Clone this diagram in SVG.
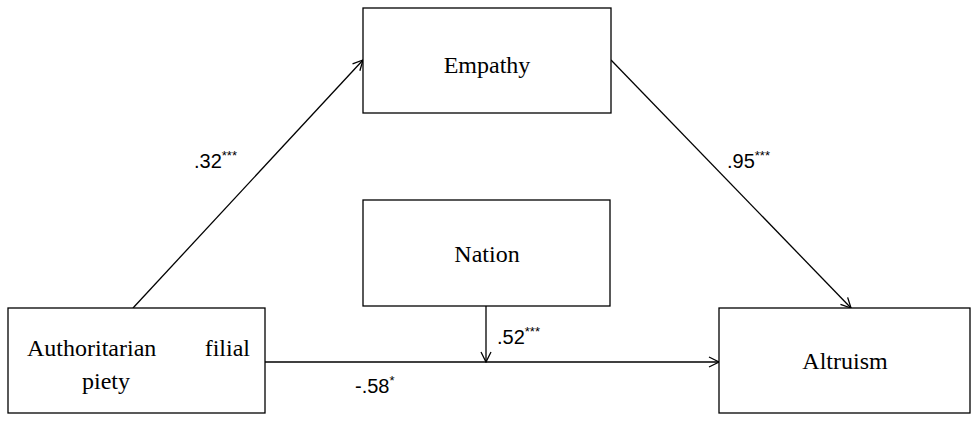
<svg xmlns="http://www.w3.org/2000/svg" width="975" height="423" viewBox="0 0 975 423">
<style>
.box{fill:#fff;stroke:#000;stroke-width:1.3}
.t{font-family:"Liberation Serif",serif;font-size:24px;fill:#000;text-anchor:middle}
.n{font-family:"Liberation Sans",sans-serif;font-size:20px;fill:#000}
.s{font-size:13px}
.c{stroke:#000;stroke-width:1.3;fill:none;marker-end:url(#a)}
</style>
<defs><marker id="a" markerWidth="12" markerHeight="12" refX="11" refY="6" orient="auto" markerUnits="userSpaceOnUse"><path d="M1,1 L11,6 L1,11" fill="none" stroke="#000" stroke-width="1.3"/></marker></defs>
<rect width="975" height="423" fill="#fff"/>
<g id="connectors">
<line class="c" x1="133" y1="308" x2="363" y2="60"/>
<line class="c" x1="611" y1="60" x2="851" y2="308"/>
<line class="c" x1="265" y1="362" x2="719" y2="362"/>
<line class="c" x1="486" y1="306" x2="486" y2="362"/>
<text class="n" x="194" y="168">.32<tspan class="s" dy="-8">***</tspan></text>
<text class="n" x="727" y="168">.95<tspan class="s" dy="-8">***</tspan></text>
<text class="n" x="497" y="344">.52<tspan class="s" dy="-8">***</tspan></text>
<text class="n" x="355" y="393">-.58<tspan class="s" dy="-8">*</tspan></text>
</g>
<g id="empathy"><rect class="box" x="363" y="8" width="248" height="105"/><text class="t" x="487" y="73">Empathy</text></g>
<g id="nation"><rect class="box" x="363" y="200" width="247" height="106"/><text class="t" x="487" y="262">Nation</text></g>
<g id="afp"><rect class="box" x="8" y="308" width="257" height="105"/><text class="t" x="27" y="356" style="text-anchor:start">Authoritarian</text><text class="t" x="250" y="356" style="text-anchor:end">filial</text><text class="t" x="106" y="389">piety</text></g>
<g id="altruism"><rect class="box" x="719" y="308" width="251" height="105"/><text class="t" x="845" y="369">Altruism</text></g>
</svg>
